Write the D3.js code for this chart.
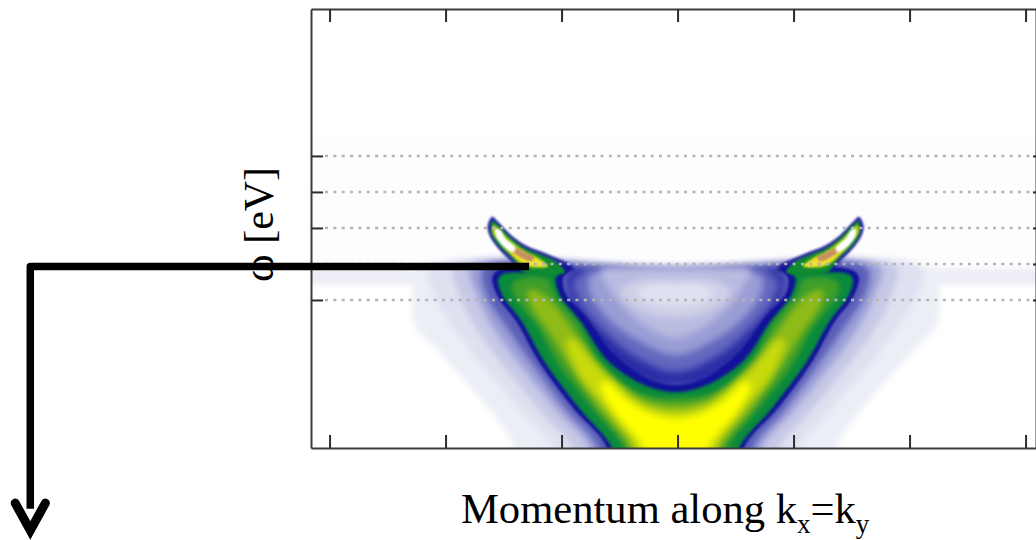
<!DOCTYPE html>
<html>
<head>
<meta charset="utf-8">
<script src="https://cdn.jsdelivr.net/npm/d3@7"></script>
<style>
  html, body { margin: 0; padding: 0; background: #fff; overflow: hidden; }
  svg { display: block; }
  text { font-family: "Liberation Serif", serif; fill: #000; }
</style>
</head>
<body>
<div id="chart"></div>
<script>
// axis ticks: momentum in 1/100 tick steps, energy in meV
const kTicks = [-300, -200, -100, 0, 100, 200, 300]
const wTicks = [-100, 0, 100, 200, 300]
const kRange = [-316, 309]
const wRange = [-511, 708]
const kCentre = -1.7

// contours below are [distance from kCentre, energy], left arm only, mirrored when drawn
const haloPale = [[0,-11],[227,-17],[227,-53],[225,-169],[203,-247],[139,-508],[139,-600],[0,-600]]
const haloLight = [[0,-11],[212,-11],[206,-100],[184,-211],[134,-406],[106,-511],[106,-600],[0,-600]]
const haloMid = [[0,-8],[190,-8],[186,-86],[171,-183],[117,-406],[89,-511],[89,-600],[0,-600]]
const haloDeep = [[0,-8],[176,-8],[171,-86],[156,-183],[102,-406],[74,-511],[74,-600],[0,-600]]
const haloDark = [[0,-11],[165,-11],[163,-86],[147,-169],[96,-397],[67,-511],[67,-600],[0,-600]]

const domeA = [[0,-336],[40,-317],[70,-211],[90,-100],[93,-36],[86,-14],[60,-50],[0,-100]]
const domeB = [[0,-300],[31,-265],[61,-190],[84,-100],[88,-44],[76,-25],[40,-60],[0,-80]]
const domeC = [[0,-253],[31,-215],[57,-156],[74,-80],[74,-33],[60,-20],[0,-30]]
const domeD = [[0,-205],[27,-170],[48,-110],[60,-53],[65,-17],[40,-8],[0,-8]]
const domeE = [[0,-150],[27,-135],[48,-78],[35,-47],[0,-42]]
const domeF = [[0,-114],[24,-106],[33,-78],[22,-58],[0,-56]]

const bandBlue = [[0,-336],[25,-317],[54,-247],[77,-147],[95,-81],[97,-39],[90,-11],[126,-6],[152,-17],[158,-36],[153,-92],[137,-161],[117,-275],[89,-397],[59,-511],[59,-600],[0,-600]]
const bandGreen = [[0,-356],[27,-336],[59,-267],[81,-164],[100,-86],[103,-36],[95,-19],[126,-22],[149,-28],[153,-44],[149,-89],[133,-158],[113,-272],[84,-397],[54,-517],[54,-600],[0,-600]]
const bandMid = [[0,-372],[31,-358],[63,-281],[85,-161],[104,-86],[110,-44],[132,-39],[141,-58],[137,-100],[120,-169],[98,-294],[72,-400],[44,-517],[44,-600],[0,-600]]
const bandOlive = [[0,-392],[31,-372],[66,-281],[85,-197],[106,-108],[118,-78],[127,-72],[125,-114],[108,-197],[88,-300],[63,-411],[38,-517],[38,-600],[0,-600]]
const bandLime = [[0,-411],[27,-392],[55,-322],[72,-267],[87,-211],[94,-211],[83,-308],[57,-411],[34,-517],[34,-600],[0,-600]]
const bandYellow = [[0,-428],[24,-411],[44,-372],[59,-328],[65,-336],[53,-411],[27,-517],[27,-600],[0,-600]]

const hookBlue = [[158,131],[162,108],[161,83],[154,47],[143,11],[133,-17],[87,-17],[90,-3],[103,17],[117,36],[128,50],[141,78],[153,117]]
const hookGreen = [[158,119],[159,106],[159,86],[152,50],[141,17],[131,-22],[96,-22],[104,8],[118,28],[129,42],[141,69],[153,108]]
const hookLime = [[157,108],[158,89],[150,53],[140,19],[129,-6],[110,-6],[119,19],[130,36],[143,67],[153,100]]
const hookYellow = [[143,39],[130,0],[110,-6],[121,17],[133,39]]
const hookBrown = [[143,42],[134,19],[124,8],[122,17],[130,33],[138,44]]
const hookWhite = [[155,97],[155,78],[148,47],[140,33],[138,44],[147,72],[151,94]]

const stripeW = [-14, -56]
const faintW = [358, 6]

// annotation arrow in the same [k, w] units
const arrowShaft = [[-128,-7],[-558,-7],[-558,-680]]
const arrowHead = [[-571,-664],[-558,-740],[-545,-664]]

const haloLayers = [haloPale, haloLight, haloMid, haloDeep, haloDark]
const haloColors = ['#eceef6', '#dfe1f0', '#c6c8e6', '#9a9ed6', '#5a5eb8']
const domeLayers = [domeA, domeB, domeC, domeD, domeE, domeF]
const domeColors = ['#2a2ea6', '#6367be', '#9a9dd5', '#b9bbe0', '#cfd0e8', '#e0e1f0']
const bandLayers = [bandBlue, bandGreen, bandMid, bandOlive, bandLime, bandYellow]
const bandColors = ['#12129a', '#0a8a3c', '#3f9e2a', '#8fbb18', '#c8da0c', '#ffff00']
const bandBlur = [1, 1.4, 2.6, 3.4, 3.6, 3.6]
const hookUnder = [hookBlue]
const hookOver = [hookGreen, hookLime, hookYellow, hookBrown, hookWhite]
const hookOverColors = ['#0f8a30', '#b4cc18', '#f4e232', '#c69060', '#ffffff']

const width = 1036
const height = 540
const plot = { left: 311, right: 1036, top: 9, bottom: 448 }

const svg = d3.select('#chart').append('svg')
    .attr('width', width)
    .attr('height', height)

const x = d3.scaleLinear().domain(kRange).range([plot.left, plot.right])
const y = d3.scaleLinear().domain(wRange).range([plot.bottom, plot.top])

const defs = svg.append('defs')
defs.append('clipPath').attr('id', 'plotClip').append('rect')
    .attr('x', plot.left).attr('y', plot.top)
    .attr('width', plot.right - plot.left).attr('height', plot.bottom - plot.top)

const addBlur = amount => {
    const id = 'blur' + String(amount).replace('.', '_')
    if (defs.select('#' + id).empty()) {
        defs.append('filter').attr('id', id)
            .attr('filterUnits', 'userSpaceOnUse')
            .attr('x', 250).attr('y', 0).attr('width', 840).attr('height', 520)
            .attr('color-interpolation-filters', 'sRGB')
            .append('feGaussianBlur').attr('stdDeviation', amount)
    }
    return `url(#${id})`
}

const area = d3.line()
    .x(d => x(d[0]))
    .y(d => y(d[1]))
    .curve(d3.curveCatmullRomClosed.alpha(0.5))

const mirrored = pts => pts.map(d => [kCentre - d[0], d[1]])
    .concat(pts.slice().reverse().filter(d => d[0] > 0).map(d => [kCentre + d[0], d[1]]))

const spectrum = svg.append('g').attr('clip-path', 'url(#plotClip)')

spectrum.append('rect')
    .attr('x', plot.left).attr('width', plot.right - plot.left)
    .attr('y', y(faintW[0])).attr('height', y(faintW[1]) - y(faintW[0]))
    .attr('fill', '#fdfdfe')

const haloGroup = spectrum.append('g').attr('filter', addBlur(3))
haloGroup.append('rect')
    .attr('x', plot.left - 20).attr('width', plot.right - plot.left + 40)
    .attr('y', y(stripeW[0])).attr('height', y(stripeW[1]) - y(stripeW[0]))
    .attr('fill', '#ebecf4')

haloGroup.selectAll('path')
    .data(haloLayers)
    .enter()
    .append('path')
    .attr('d', d => area(mirrored(d)))
    .attr('fill', (_, i) => haloColors[i])

const domeGroup = spectrum.append('g').attr('filter', addBlur(3.5))
domeGroup.selectAll('path')
    .data(domeLayers)
    .enter()
    .append('path')
    .attr('d', d => area(mirrored(d)))
    .attr('fill', (_, i) => domeColors[i])

const hookSide = (group, layers, colors) => {
    [-1, 1].forEach(side => {
        group.append('g').selectAll('path')
            .data(layers)
            .enter()
            .append('path')
            .attr('d', d => area(d.map(p => [kCentre + side * p[0], p[1]])))
            .attr('fill', (_, i) => colors[i])
    })
}

hookSide(spectrum.append('g').attr('filter', addBlur(1)), hookUnder, ['#2a2a9e'])

spectrum.append('g').selectAll('path')
    .data(bandLayers)
    .enter()
    .append('path')
    .attr('d', d => area(mirrored(d)))
    .attr('fill', (_, i) => bandColors[i])
    .attr('filter', (_, i) => addBlur(bandBlur[i]))

hookSide(spectrum.append('g').attr('filter', addBlur(0.9)), hookOver, hookOverColors)

// dotted level lines
svg.append('g').selectAll('line')
    .data(wTicks)
    .enter()
    .append('line')
    .attr('x1', plot.left + 14)
    .attr('x2', plot.right)
    .attr('y1', d => y(d))
    .attr('y2', d => y(d))
    .attr('stroke', '#b4b4b4')
    .attr('stroke-width', 2.5)
    .attr('stroke-dasharray', '3 5.35')

const styleAxis = g => {
    g.selectAll('.domain').attr('stroke', '#3c3c3c').attr('stroke-width', 2)
    g.selectAll('.tick line').attr('stroke', '#2c2c2c').attr('stroke-width', 2)
}

svg.append('g')
    .attr('transform', `translate(0, ${plot.bottom})`)
    .call(d3.axisBottom(x).tickValues(kTicks).tickSize(-13).tickSizeOuter(0).tickFormat(''))
    .call(styleAxis)
svg.append('g')
    .attr('transform', `translate(0, ${plot.top})`)
    .call(d3.axisTop(x).tickValues(kTicks).tickSize(-13).tickSizeOuter(0).tickFormat(''))
    .call(styleAxis)
svg.append('g')
    .attr('transform', `translate(${plot.left}, 0)`)
    .call(d3.axisLeft(y).tickValues(wTicks).tickSize(-12).tickSizeOuter(0).tickFormat(''))
    .call(styleAxis)
svg.append('g')
    .attr('transform', `translate(${plot.right}, 0)`)
    .call(d3.axisRight(y).tickValues(wTicks).tickSize(-3).tickSizeOuter(0).tickFormat(''))
    .call(styleAxis)

svg.append('text')
    .attr('transform', 'translate(273, 282) rotate(-90)')
    .attr('font-size', 42)
    .text('ω [eV]')

const xLabel = svg.append('text')
    .attr('x', 461)
    .attr('y', 523)
    .attr('font-size', 42.6)
xLabel.append('tspan').text('Momentum along k')
xLabel.append('tspan').attr('font-size', 27).attr('dy', 10).text('x')
xLabel.append('tspan').attr('dy', -10).text('=k')
xLabel.append('tspan').attr('font-size', 27).attr('dy', 10).text('y')

const arrowLine = d3.line().x(d => x(d[0])).y(d => y(d[1]))
svg.append('path')
    .attr('d', arrowLine(arrowShaft))
    .attr('fill', 'none')
    .attr('stroke', '#000')
    .attr('stroke-width', 7.5)
    .attr('stroke-linejoin', 'round')
svg.append('path')
    .attr('d', arrowLine(arrowHead))
    .attr('fill', 'none')
    .attr('stroke', '#000')
    .attr('stroke-width', 9)
    .attr('stroke-linecap', 'round')
    .attr('stroke-linejoin', 'miter')
</script>
</body>
</html>
